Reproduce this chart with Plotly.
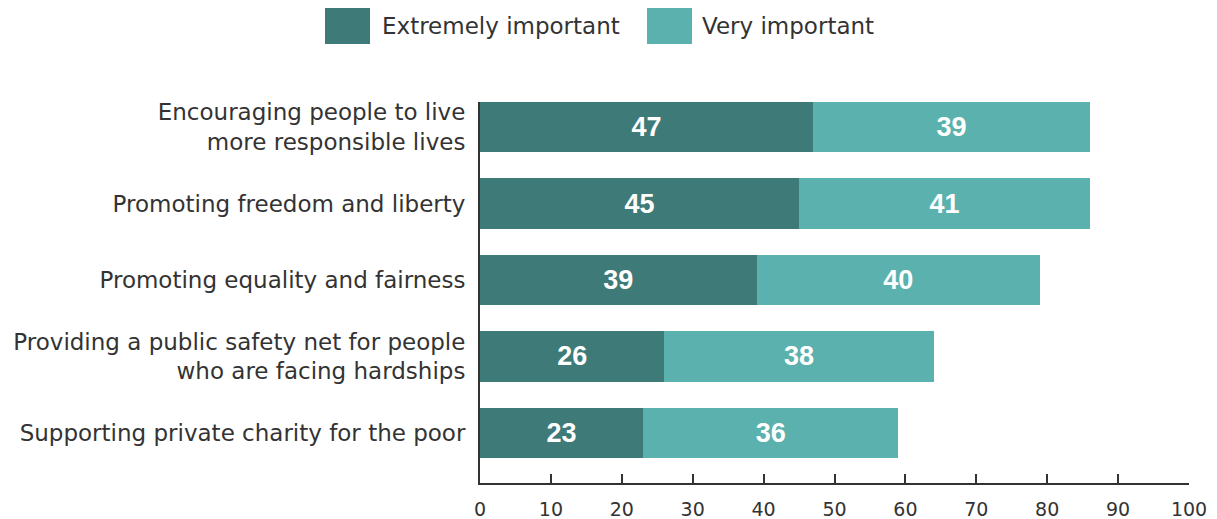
import plotly.graph_objects as go

categories = [
    "Encouraging people to live<br>more responsible lives",
    "Promoting freedom and liberty",
    "Promoting equality and fairness",
    "Providing a public safety net for people<br>who are facing hardships",
    "Supporting private charity for the poor",
]
extremely_important = [47, 45, 39, 26, 23]
very_important = [39, 41, 40, 38, 36]
x_ticks = [0, 10, 20, 30, 40, 50, 60, 70, 80, 90, 100]

DARK = "#3d7a78"
LIGHT = "#5ab1ae"
TEXT = "#333333"
FONT = "DejaVu Sans"

fig = go.Figure()
for name, vals, col in [("Extremely important", extremely_important, DARK),
                        ("Very important", very_important, LIGHT)]:
    fig.add_trace(go.Bar(
        y=categories, x=vals, name=name, orientation="h",
        marker=dict(color=col, line=dict(width=0)),
        text=vals, texttemplate="<b>%{x}</b>", textposition="inside",
        insidetextanchor="middle", textangle=0,
        textfont=dict(color="white", size=27, family="Liberation Sans"),
        showlegend=False,
    ))

# Legend drawn as large swatches with labels above the plot
W, H = 709.0, 381.0
def px(x):
    return (x - 480) / W
def py(y):
    return (483 - y) / H

legend_items = [("Extremely important", DARK, 325, 382),
                ("Very important", LIGHT, 647, 702)]
for label, col, sx, tx in legend_items:
    fig.add_shape(type="rect", xref="paper", yref="paper",
                  x0=px(sx), x1=px(sx + 45), y0=py(44), y1=py(8),
                  fillcolor=col, line=dict(width=0))
    fig.add_annotation(xref="paper", yref="paper", x=px(tx), y=py(26),
                       text=label, showarrow=False, xanchor="left", yanchor="middle",
                       xshift=-2, font=dict(size=23, color=TEXT, family=FONT))

fig.update_layout(
    barmode="stack",
    bargap=0.345,
    width=1217, height=519,
    margin=dict(l=480, r=28, t=102, b=36),
    paper_bgcolor="white", plot_bgcolor="white",
    font=dict(family=FONT, color=TEXT),
)
fig.update_xaxes(
    range=[0, 100], tickvals=x_ticks, showgrid=False, zeroline=False,
    showline=True, linecolor="#333333", linewidth=2, automargin=False,
    ticks="inside", ticklen=9, tickwidth=2, tickcolor="#333333",
    ticklabelstandoff=8,
    tickfont=dict(size=19, color=TEXT, family=FONT),
)
fig.update_yaxes(
    categoryorder="array", categoryarray=categories,
    range=[4.654, -0.327], showgrid=False, zeroline=False, automargin=False,
    showline=True, linecolor="#333333", linewidth=2, ticks="",
    ticklabelstandoff=8,
    tickfont=dict(size=23, color=TEXT, family=FONT),
)

fig.write_html("out.html")
